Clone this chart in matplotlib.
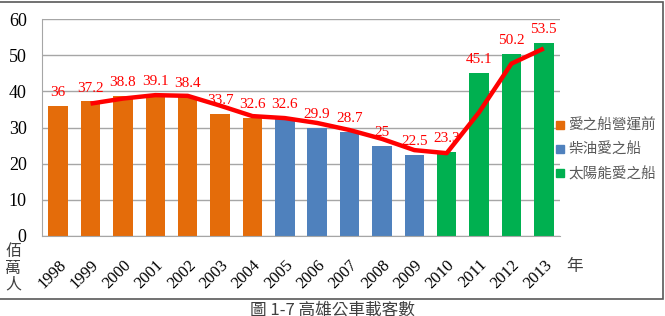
import matplotlib
matplotlib.use("Agg")
import matplotlib.pyplot as plt
from matplotlib.patches import Rectangle
from matplotlib.lines import Line2D

plt.rcParams["font.family"] = ["Liberation Serif", "Noto Sans CJK TC", "DejaVu Sans"]

years = ["1998", "1999", "2000", "2001", "2002", "2003", "2004", "2005",
         "2006", "2007", "2008", "2009", "2010", "2011", "2012", "2013"]
riders = [36, 37.2, 38.8, 39.1, 38.4, 33.7, 32.6, 32.6,
          29.9, 28.7, 25, 22.5, 23.3, 45.1, 50.2, 53.5]
phase = [0, 0, 0, 0, 0, 0, 0, 1, 1, 1, 1, 1, 2, 2, 2, 2]
trend_years = years[1:]
trend = [36.6, 38.0, 38.95, 38.75, 36.05, 33.15, 32.6, 31.25,
         29.3, 26.85, 23.75, 22.9, 34.2, 47.65, 51.85]
phase_names = ["愛之船營運前", "柴油愛之船", "太陽能愛之船"]
phase_colors = ["#E46C0A", "#4F81BD", "#00B050"]

fig = plt.figure(figsize=(6.65, 3.16), dpi=100)
ax = fig.add_axes([42 / 665, 1 - 236 / 316, (560 - 42) / 665, (236 - 19) / 316])

xs = list(range(len(years)))
ax.bar(xs, riders, width=0.6, color=[phase_colors[p] for p in phase], zorder=2)
for x, v in zip(xs, riders):
    ax.annotate(f"{v:g}", (x, v), xytext=(0, 5), textcoords="offset points",
                ha="center", va="bottom", color="#FF0000", fontsize=11, zorder=3)
ax.plot(xs[1:], trend, color="#FF0000", lw=3.2, zorder=4, solid_capstyle="butt")

ax.set_xlim(-0.5, len(years) - 0.5)
ax.set_ylim(0, 60)
ax.set_yticks(range(0, 61, 10))
ax.yaxis.grid(True, color="#A6A6A6", lw=1)
ax.set_axisbelow(True)
for s in ["top", "right"]:
    ax.spines[s].set_visible(False)
for s in ["left", "bottom"]:
    ax.spines[s].set_color("#A6A6A6")
ax.tick_params(length=0, labelsize=13)
ax.tick_params(axis="y", pad=11)
ax.set_xticks(xs)
ax.set_xticklabels(years, rotation=45, ha="right", rotation_mode="anchor", fontsize=12)
ax.tick_params(axis="x", pad=15)

handles = [Line2D([], [], marker="s", ls="", color=c, markersize=6) for c in phase_colors]
fig.legend(handles, phase_names, loc="center left", bbox_to_anchor=(553 / 665, 1 - 150 / 316),
           frameon=False, handletextpad=0.05, labelspacing=0.7, handlelength=1.0,
           borderpad=0, borderaxespad=0,
           prop={"family": ["Noto Sans CJK TC"], "size": 10.5}, labelcolor="#595959")

fig.text(13 / 665, 1 - 268 / 316, "佰\n萬\n人", ha="center", va="center",
         fontsize=11.5, color="#404040", linespacing=0.95, family=["Noto Sans CJK TC"])
fig.text(575 / 665, 1 - 266 / 316, "年", ha="center", va="center",
         fontsize=12, color="#404040", family=["Noto Sans CJK TC"])
fig.text(332 / 665, 1 - 310 / 316, "圖 1-7 高雄公車載客數", ha="center", va="center",
         fontsize=12, color="#404040", family=["Noto Sans CJK TC"])

fig.add_artist(Rectangle((-0.01, 1 - 299 / 316), 663 / 665 + 0.01, (299 - 2) / 316,
                         transform=fig.transFigure, fill=False, ec="#595959", lw=1.2))

fig.savefig("out.png", dpi=100, facecolor="white")
